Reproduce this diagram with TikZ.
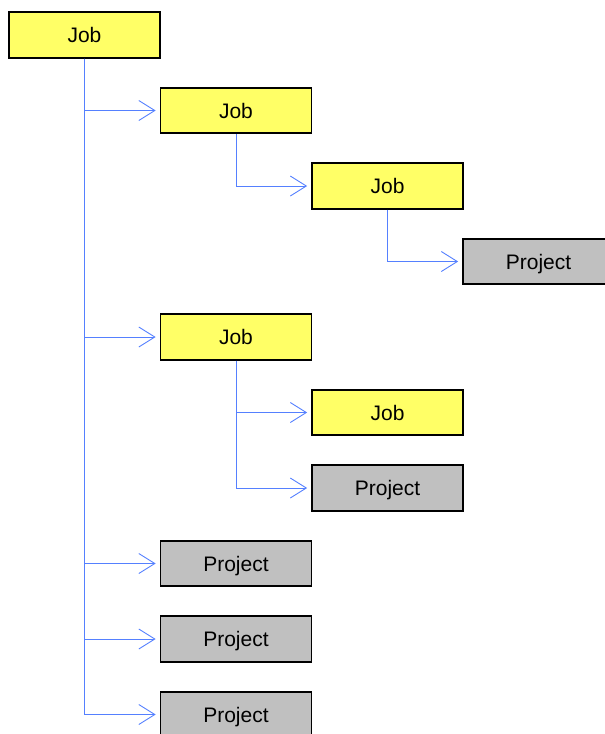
\documentclass[tikz,border=0pt]{standalone}
\usepackage{fontspec}
\setmainfont{Liberation Sans}
\usetikzlibrary{arrows.meta}
\definecolor{jobfill}{HTML}{FFFF66}
\definecolor{projfill}{HTML}{C0C0C0}
\definecolor{linkblue}{HTML}{5580FF}
\tikzset{
  item/.style={draw=black, line width=1.7pt, minimum width=151pt, minimum height=45.5pt,
    inner sep=0pt, text height=15pt, text depth=0pt,
    font=\fontsize{21pt}{24pt}\selectfont},
  jobbox/.style={item, fill=jobfill},
  projbox/.style={item, fill=projfill},
  link/.style={draw=linkblue, line width=0.9pt, shorten >=4pt,
    -{Straight Barb[length=16pt, width=20pt, line width=0.9pt]}},
}
\begin{document}
\begin{tikzpicture}[x=1pt, y=-1pt]
  \useasboundingbox (0,0) rectangle (605,734);
  % tree of jobs and projects
  \node[jobbox]  (j0) at (84.5,35)    {Job};
  \node[jobbox]  (j1) at (236,110.5)  {Job};
  \node[jobbox]  (j2) at (387.5,186)  {Job};
  \node[projbox] (p3) at (538.5,261.5) {Project};
  \node[jobbox]  (j4) at (236,337)    {Job};
  \node[jobbox]  (j5) at (387.5,412.5) {Job};
  \node[projbox] (p6) at (387.5,488)  {Project};
  \node[projbox] (p7) at (236,563.5)  {Project};
  \node[projbox] (p8) at (236,639)    {Project};
  \node[projbox] (p9) at (236,714.5)  {Project};
  % connectors from each parent down and across to its children
  \foreach \a/\b in {j0/j1, j0/j4, j0/p7, j0/p8, j0/p9, j1/j2, j2/p3, j4/j5, j4/p6}
    \draw[link] (\a.south) |- (\b.west);
\end{tikzpicture}
\end{document}
